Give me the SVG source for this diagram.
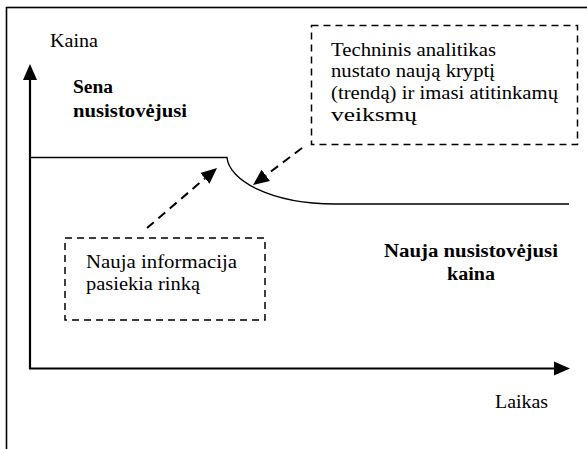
<svg xmlns="http://www.w3.org/2000/svg" width="587" height="449" viewBox="0 0 587 449">
  <style>
    .frame { fill: none; stroke: #000; stroke-width: 1.6; }
    .axis { fill: none; stroke: #000; stroke-width: 2.2; }
    .price { fill: none; stroke: #000; stroke-width: 1.4; }
    .note { fill: #fff; stroke: #000; stroke-width: 1.5; stroke-dasharray: 7 5; }
    .pointer { fill: none; stroke: #000; stroke-width: 2; stroke-dasharray: 9 6; }
    .txt { font-family: "Times New Roman", Times, Tinos, "Liberation Serif", "DejaVu Serif", "Noto Serif", FreeSerif, serif; font-size: 18px; fill: #000; }
    .bold { font-weight: bold; }
  </style>
  <defs>
    <marker id="head" markerUnits="userSpaceOnUse" markerWidth="17" markerHeight="16" refX="0" refY="8" orient="auto">
      <path d="M0,1 L16,8 L0,15 Z" fill="#000"/>
    </marker>
  </defs>

  <rect width="587" height="449" fill="#fff"/>

  <!-- outer frame, running off the right and bottom edges -->
  <rect class="frame" x="6.5" y="7.5" width="600" height="500"/>

  <!-- price and time axes -->
  <g id="axes">
    <path class="axis" d="M30,369 L30,80" marker-end="url(#head)"/>
    <path class="axis" d="M29,368.5 L554,368.5" marker-end="url(#head)"/>
  </g>

  <!-- price curve: old level, transition, new level -->
  <g id="price-line">
    <path class="price" d="M30,157.5 L227,157.5 C229,180 270,204 335,204 L569,204"/>
  </g>

  <g id="label-kaina" class="txt">
    <text x="50" y="46.7" textLength="48" lengthAdjust="spacingAndGlyphs">Kaina</text>
  </g>

  <g id="label-old-price" class="txt bold">
    <text x="73" y="93.3" textLength="40" lengthAdjust="spacingAndGlyphs">Sena</text>
    <text x="73" y="116.7" textLength="114" lengthAdjust="spacingAndGlyphs">nusistovėjusi</text>
  </g>

  <g id="label-new-price" class="txt bold">
    <text x="384" y="256.5" textLength="174" lengthAdjust="spacingAndGlyphs">Nauja nusistovėjusi</text>
    <text x="447" y="280" textLength="48" lengthAdjust="spacingAndGlyphs">kaina</text>
  </g>

  <g id="label-laikas" class="txt">
    <text x="495" y="408.3" textLength="53" lengthAdjust="spacingAndGlyphs">Laikas</text>
  </g>

  <g id="note-analyst" class="txt">
    <rect class="note" x="311.5" y="25.5" width="266" height="119"/>
    <text x="331" y="55.5" textLength="165" lengthAdjust="spacingAndGlyphs">Techninis analitikas</text>
    <text x="331" y="77.3" textLength="164" lengthAdjust="spacingAndGlyphs">nustato naują kryptį</text>
    <text x="331" y="99" textLength="227" lengthAdjust="spacingAndGlyphs">(trendą) ir imasi atitinkamų</text>
    <text x="331" y="121" textLength="86" lengthAdjust="spacingAndGlyphs">veiksmų</text>
  </g>

  <g id="note-info" class="txt">
    <rect class="note" x="65" y="238" width="200" height="82"/>
    <text x="86" y="267.7" textLength="151" lengthAdjust="spacingAndGlyphs">Nauja informacija</text>
    <text x="86" y="290.3" textLength="114" lengthAdjust="spacingAndGlyphs">pasiekia rinką</text>
  </g>

  <!-- dashed pointers from the notes to the curve -->
  <g id="connectors">
    <path class="pointer" d="M147,228 L204.9,178.4" marker-end="url(#head)"/>
    <path class="pointer" d="M302,148 L265.8,175.4" marker-end="url(#head)"/>
  </g>
</svg>
